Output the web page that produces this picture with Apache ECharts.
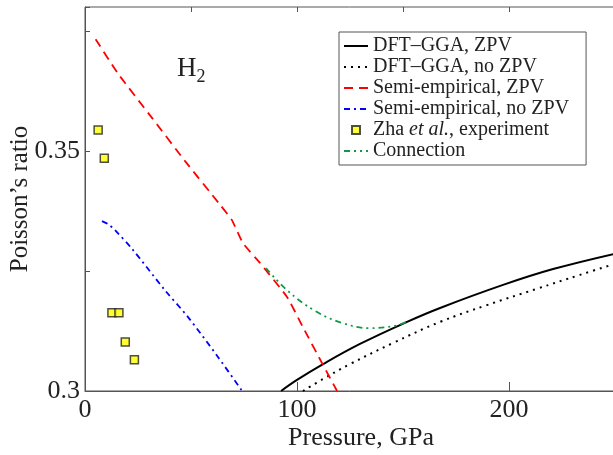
<!DOCTYPE html>
<html>
<head>
<meta charset="utf-8">
<script src="https://cdn.jsdelivr.net/npm/echarts@6/dist/echarts.min.js"></script>
<style>
  html, body { margin: 0; padding: 0; background: #fff; }
  #chart { width: 613px; height: 455px; }
</style>
</head>
<body>
<div id="chart"></div>
<script>
// values: [pressure GPa, Poisson's ratio]
var dftZpv = [[92.5, 0.3], [100, 0.3023], [112.3, 0.3056], [129.7, 0.3098], [151.9, 0.3144],
    [167.5, 0.3173], [197.2, 0.3221], [220.8, 0.3254], [250, 0.3286]];
var dftNoZpv = [[102.8, 0.3], [112.3, 0.3025], [125, 0.3056], [145.3, 0.31], [167.5, 0.3144],
    [189.6, 0.3179], [213.2, 0.3213], [233.5, 0.3242], [250, 0.3265]];
var semiZpv = [[5, 0.3733], [15.6, 0.3661], [31.6, 0.3569], [47.2, 0.3479], [63.7, 0.3388],
    [69.3, 0.3356], [74.5, 0.3308], [82.5, 0.3267], [95.3, 0.3196], [102.8, 0.3133],
    [112.3, 0.3054], [118.9, 0.3]];
var semiNoZpv = [[8, 0.3354], [10.8, 0.3348], [14.2, 0.3335], [22.6, 0.3294], [37.7, 0.321],
    [48.6, 0.3154], [62.7, 0.3071], [74.1, 0.3]];
var zhaExp = [[6.2, 0.3544], [9.1, 0.3485], [12.7, 0.3163], [16.0, 0.3163], [19.0, 0.3102], [23.3, 0.3065]];
var connection = [[85.4, 0.3256], [95.3, 0.321], [108.5, 0.3167], [121.2, 0.3142], [134.4, 0.3131],
    [145.3, 0.3135], [151.9, 0.3144]];

var xTickLabels = ['0', '100', '200'];
var yTickLabels = ['0.3', '0.35'];

var serif = 'Liberation Serif';

function lineSeries(name, data, color, type, width, smooth) {
    return {
        name: name,
        type: 'line',
        data: data,
        symbol: 'none',
        showSymbol: false,
        smooth: smooth,
        silent: true,
        lineStyle: { color: color, type: type, width: width },
        itemStyle: { color: color }
    };
}

// legend entries for lines get no marker, only the line sample
function lineItem(name) {
    return { name: name, itemStyle: { opacity: 0 } };
}

var option = {
    animation: false,
    backgroundColor: '#fff',
    title: {
        text: '{h|H}{s|2}',
        left: 172,
        top: 50,
        textStyle: {
            rich: {
                h: { fontFamily: serif, fontSize: 27, fontWeight: 'normal', color: '#222', verticalAlign: 'top' },
                s: { fontFamily: serif, fontSize: 18, fontWeight: 'normal', color: '#222', verticalAlign: 'top', padding: [13, 0, 0, 0] }
            }
        }
    },
    grid: {
        left: 85, top: 7, right: -2, bottom: 64,
        outerBoundsMode: 'none',
        containLabel: false,
        show: true, borderColor: '#555', borderWidth: 1
    },
    legend: {
        orient: 'vertical',
        left: 339, top: 32,
        padding: [4, 17, 4, 4],
        itemWidth: 24, itemHeight: 8, itemGap: 1,
        symbolKeepAspect: true,
        borderColor: '#555', borderWidth: 1,
        backgroundColor: '#fff',
        textStyle: {
            fontFamily: serif, fontSize: 20, color: '#222', lineHeight: 19,
            rich: {
                n: { fontFamily: serif, fontSize: 20, color: '#222', lineHeight: 19 },
                i: { fontFamily: serif, fontSize: 20, color: '#222', lineHeight: 19, fontStyle: 'italic' }
            }
        },
        formatter: function (name) {
            if (name.indexOf('Zha') === 0) return '{n|Zha }{i|et al.}{n|, experiment}';
            return name;
        },
        data: [lineItem('DFT\u2013GGA, ZPV'), lineItem('DFT\u2013GGA, no ZPV'), lineItem('Semi-empirical, ZPV'),
            lineItem('Semi-empirical, no ZPV'),
            { name: 'Zha et al., experiment', icon: 'path://M0,0L10,0L10,10L0,10Z' },
            lineItem('Connection')]
    },
    xAxis: [{
        type: 'value', min: 0, max: 250, interval: 100,
        name: 'Pressure, GPa', nameLocation: 'middle', nameGap: 34, nameMoveOverlap: false,
        nameTextStyle: { fontFamily: serif, fontSize: 26, color: '#222', padding: [0, 0, 0, 22] },
        axisLine: { lineStyle: { color: '#555' } },
        axisTick: { inside: true, length: 9, lineStyle: { color: '#555' } },
        axisLabel: {
            fontFamily: serif, fontSize: 26, color: '#222', margin: 6,
            formatter: function (v) { var s = String(v); return xTickLabels.indexOf(s) >= 0 ? s : ''; }
        },
        splitLine: { show: false }
    }, {
        type: 'value', min: 0, max: 250, interval: 50,
        axisLine: { show: false },
        axisTick: { inside: true, length: 5, lineStyle: { color: '#555' } },
        axisLabel: { show: false },
        splitLine: { show: false }
    }],
    yAxis: {
        type: 'value', min: 0.3, max: 0.38, interval: 0.025,
        name: 'Poisson\u2019s ratio', nameLocation: 'middle', nameGap: 52, nameRotate: 90, nameMoveOverlap: false,
        nameTextStyle: { fontFamily: serif, fontSize: 25, color: '#222' },
        axisLine: { lineStyle: { color: '#555' } },
        axisTick: { inside: true, length: 5, lineStyle: { color: '#555' } },
        axisLabel: {
            fontFamily: serif, fontSize: 26, color: '#222', margin: 5,
            formatter: function (v) { var s = String(+v.toFixed(3)); return yTickLabels.indexOf(s) >= 0 ? s : ''; }
        },
        splitLine: { show: false }
    },
    series: [
        lineSeries('DFT\u2013GGA, ZPV', dftZpv, '#000', 'solid', 2, 0.4),
        lineSeries('DFT\u2013GGA, no ZPV', dftNoZpv, '#000', [2, 5], 2, 0.4),
        lineSeries('Semi-empirical, ZPV', semiZpv, '#ff0000', [9, 6], 1.8, 0.15),
        lineSeries('Semi-empirical, no ZPV', semiNoZpv, '#0000ff', [6, 4, 2, 4], 1.8, 0.3),
        {
            name: 'Zha et al., experiment',
            type: 'scatter',
            data: zhaExp,
            symbol: 'rect',
            symbolSize: 8,
            itemStyle: { color: '#ffff00', borderColor: '#222', borderWidth: 1.5 }
        },
        lineSeries('Connection', connection, '#119944', [6, 4, 2, 4, 2, 4], 1.8, 0.4)
    ]
};

var chart = echarts.init(document.getElementById('chart'));
chart.setOption(option);
</script>
</body>
</html>
